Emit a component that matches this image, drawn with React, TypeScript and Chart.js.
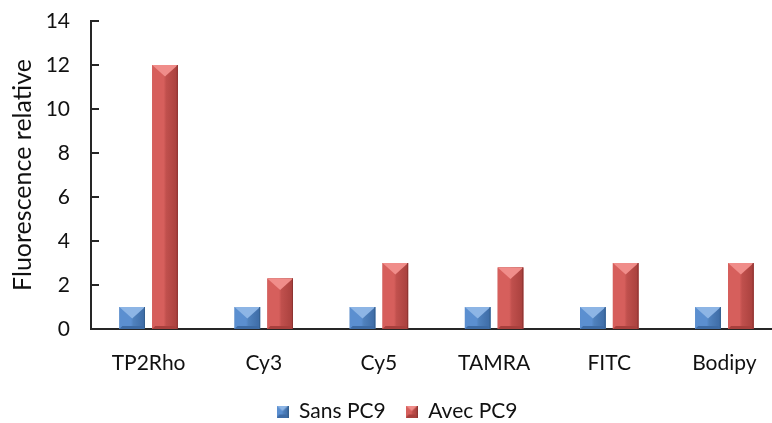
import React, { useEffect, useRef } from "react";
import { Chart, registerables } from "chart.js";

Chart.register(...registerables);

const categories = ["TP2Rho", "Cy3", "Cy5", "TAMRA", "FITC", "Bodipy"];
const seriesNames = ["Sans PC9", "Avec PC9"];
const sansPC9 = [1, 1, 1, 1, 1, 1];
const avecPC9 = [12, 2.3, 3, 2.8, 3, 3];
const yTickStep = 2;
const yMax = 14;
const yTitle = "Fluorescence relative";

const FONT = "Lato, 'Liberation Sans', sans-serif";
const CANVAS_W = 794;
const CANVAS_H = 432;

const palettes = [
  { base: "#4F81BD", left: "#5B8FD0", right: "#3D6BA5", top: "#8DB5E5", edge: "#35608F" },
  { base: "#C0504D", left: "#D65F5C", right: "#A8403D", top: "#F08D8A", edge: "#8C3432" },
];

function drawBevelBar(ctx: CanvasRenderingContext2D, L: number, R: number, T: number, B: number, p: any) {
  const w = R - L;
  const h = B - T;
  if (w <= 0 || h <= 0) return;
  const cx = (L + R) / 2;
  ctx.save();
  const g = ctx.createLinearGradient(L, 0, R, 0);
  g.addColorStop(0, p.left);
  g.addColorStop(0.45, p.left);
  g.addColorStop(0.55, p.base);
  g.addColorStop(1, p.right);
  ctx.fillStyle = g;
  ctx.fillRect(L, T, w, h);
  const bb = Math.min(3, h / 4);
  ctx.fillStyle = p.right;
  ctx.beginPath();
  ctx.moveTo(L, B);
  ctx.lineTo(R, B);
  ctx.lineTo(R - bb, B - bb);
  ctx.lineTo(L + bb, B - bb);
  ctx.closePath();
  ctx.fill();
  const d = Math.min(w * 0.45, h);
  ctx.fillStyle = p.top;
  ctx.beginPath();
  ctx.moveTo(L, T);
  ctx.lineTo(R, T);
  ctx.lineTo(cx, T + d);
  ctx.closePath();
  ctx.fill();
  ctx.fillStyle = p.edge;
  ctx.fillRect(R - 1, T, 1, h);
  ctx.restore();
}

const bevelPlugin = {
  id: "bevelBars",
  afterDatasetsDraw(chart: any) {
    const ctx = chart.ctx as CanvasRenderingContext2D;
    chart.data.datasets.forEach((_ds: any, di: number) => {
      const meta = chart.getDatasetMeta(di);
      const p = palettes[di];
      meta.data.forEach((bar: any) => {
        const { x, y, base, width } = bar.getProps(["x", "y", "base", "width"], true);
        drawBevelBar(ctx, x - width / 2, x + width / 2, Math.min(y, base), Math.max(y, base), p);
      });
    });
  },
};

const innerTicksPlugin = {
  id: "innerTicks",
  afterDraw(chart: any) {
    const ctx = chart.ctx as CanvasRenderingContext2D;
    const ys = chart.scales.y;
    const left = chart.chartArea.left;
    ctx.save();
    ctx.strokeStyle = "#262626";
    ctx.lineWidth = 2;
    ys.ticks.forEach((t: any) => {
      if (t.value === 0) return;
      const py = Math.round(ys.getPixelForValue(t.value));
      ctx.beginPath();
      ctx.moveTo(left, py);
      ctx.lineTo(left + 8, py);
      ctx.stroke();
    });
    ctx.restore();
  },
};

function makeLegendIcon(p: any): HTMLCanvasElement {
  const c = document.createElement("canvas");
  c.width = 12;
  c.height = 12;
  const ctx = c.getContext("2d") as CanvasRenderingContext2D;
  drawBevelBar(ctx, 0, 12, 0, 12, p);
  return c;
}

export default function App() {
  const ref = useRef<HTMLCanvasElement | null>(null);

  useEffect(() => {
    if (!ref.current) return;
    const icons = palettes.map(makeLegendIcon);
    const chart = new Chart(ref.current, {
      type: "bar",
      data: {
        labels: categories,
        datasets: [
          {
            label: seriesNames[0],
            data: sansPC9,
            backgroundColor: palettes[0].base,
            borderWidth: 0,
            pointStyle: icons[0] as any,
          },
          {
            label: seriesNames[1],
            data: avecPC9,
            backgroundColor: palettes[1].base,
            borderWidth: 0,
            pointStyle: icons[1] as any,
          },
        ],
      },
      options: {
        responsive: false,
        animation: false,
        devicePixelRatio: 1,
        layout: { padding: { left: 12, right: 12, top: 21, bottom: 0 } },
        datasets: {
          bar: { categoryPercentage: 0.57, barPercentage: 0.78 },
        },
        plugins: {
          tooltip: { enabled: false },
          legend: {
            position: "bottom",
            labels: {
              usePointStyle: true,
              boxWidth: 12,
              boxHeight: 12,
              padding: 20,
              color: "#111",
              font: { family: FONT, size: 21 },
            },
          },
        },
        scales: {
          x: {
            grid: { display: false, drawTicks: false },
            border: { display: true, color: "#262626", width: 2 },
            ticks: { color: "#111", font: { family: FONT, size: 21 }, padding: 22, maxRotation: 0 },
            afterFit: (s: any) => {
              s.height = 52;
            },
          },
          y: {
            min: 0,
            max: yMax,
            grid: { display: false, drawTicks: false },
            border: { display: true, color: "#262626", width: 2 },
            ticks: { stepSize: yTickStep, color: "#111", font: { family: FONT, size: 21 }, padding: 21 },
            title: {
              display: true,
              text: yTitle,
              color: "#111",
              font: { family: FONT, size: 25, lineHeight: 1 },
              padding: { top: -2, bottom: 0 },
            },
            afterFit: (s: any) => {
              s.width = 79;
              s.paddingTop = 0;
              s.paddingBottom = 0;
            },
          },
        },
      },
      plugins: [bevelPlugin, innerTicksPlugin],
    });
    return () => chart.destroy();
  }, []);

  return (
    <div style={{ position: "fixed", left: 0, top: 0, width: 772, height: 423, overflow: "hidden", background: "#fff" }}>
      <canvas ref={ref} width={CANVAS_W} height={CANVAS_H} style={{ display: "block" }} />
    </div>
  );
}
